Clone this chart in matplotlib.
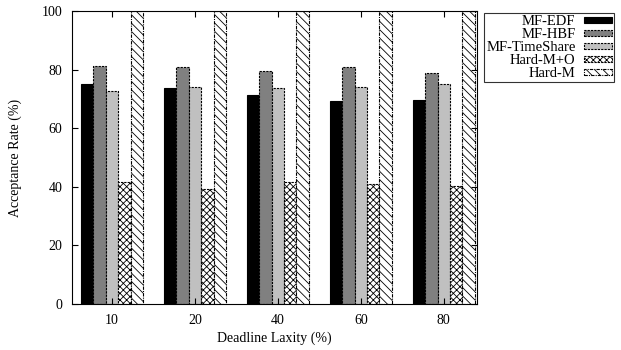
import numpy as np
import matplotlib
matplotlib.use("Agg")
import matplotlib.pyplot as plt

plt.rcParams['font.family'] = ['Liberation Serif', 'DejaVu Serif']
plt.rcParams['hatch.linewidth'] = 0.6

laxity = ['10', '20', '40', '60', '80']
series = ['MF-EDF', 'MF-HBF', 'MF-TimeShare', 'Hard-M+O', 'Hard-M']
mf_edf = [75.1, 73.7, 71.3, 69.4, 69.6]
mf_hbf = [81.2, 81.0, 79.6, 81.0, 78.7]
mf_timeshare = [72.8, 74.0, 73.6, 74.0, 75.0]
hard_mo = [41.5, 39.4, 41.8, 40.8, 40.4]
hard_m = [100, 100, 100, 100, 100]

values = [mf_edf, mf_hbf, mf_timeshare, hard_mo, hard_m]
colors = ['black', '#808080', '#c0c0c0', 'white', 'white']
hatches = [None, None, None, 'xxxxx', '\\\\\\\\']
styles = ['-', (0, (2, 1)), (0, (2, 1)), (0, (2, 1)), (0, (3, 1, 1, 1))]

fig = plt.figure(figsize=(6.21, 3.5), dpi=100)
ax = fig.add_axes([72/621, 46/350, 405/621, 293/350])

x = np.arange(len(laxity))
w = 0.15
for i, (vals, name) in enumerate(zip(values, series)):
    ax.bar(x + (i - 2) * w, vals, w, color=colors[i], hatch=hatches[i],
           edgecolor='black', linewidth=0.8, linestyle=styles[i], label=name)

ax.set_xlim(-0.48, 4.4)
ax.set_ylim(0, 100)
ax.set_xticks(x)
ax.set_xticklabels(laxity)
ax.set_yticks([0, 20, 40, 60, 80, 100])
ax.tick_params(direction='in', labelsize=10, top=True, right=True, length=4, pad=7)
ax.set_xlabel('Deadline Laxity (%)', fontsize=10)
ax.set_ylabel('Acceptance Rate (%)', fontsize=10)
ax.xaxis.set_label_coords(0.5, -(338 - 304) / 293, transform=ax.transAxes)
ax.yaxis.set_label_coords(-(72 - 15) / 405, 0.5, transform=ax.transAxes)
ax.xaxis.label.set_va('center')
ax.yaxis.label.set_va('center')

leg = ax.legend(loc='upper left', bbox_to_anchor=(484/621, 1 - 13/350),
                bbox_transform=fig.transFigure, markerfirst=False,
                fontsize=10.5, frameon=True, fancybox=False, handlelength=1.9,
                handleheight=0.35, borderpad=0.15, labelspacing=0.0,
                handletextpad=0.6, borderaxespad=0)
leg.get_frame().set_edgecolor('black')
leg.get_frame().set_linewidth(0.8)
for t in leg.get_texts():
    t.set_ha('right')

fig.savefig('out.png', dpi=100)
